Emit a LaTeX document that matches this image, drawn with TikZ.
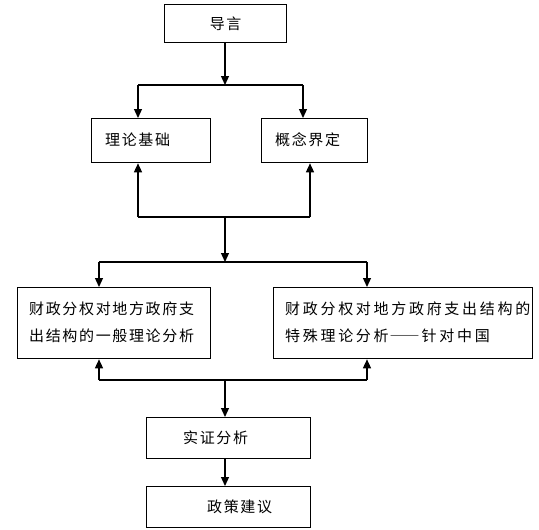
\documentclass[tikz,border=0pt]{standalone}
\usepackage{fontspec}
\newfontfamily\cjk[LetterSpace=11]{Noto Sans CJK SC}
\newfontfamily\cjkwide[LetterSpace=18]{Noto Sans CJK SC}
\newfontfamily\cjkplain[RawFeature=+fwid]{Noto Sans CJK SC}
\usetikzlibrary{arrows.meta}
\begin{document}
\begin{tikzpicture}[x=1pt,y=-1pt,
  box/.style={draw,line width=1.3pt,rectangle,anchor=north west,inner sep=0pt,font=\cjk\fontsize{15}{27}\selectfont},
  txt/.style={anchor=west,inner sep=0pt,align=left,font=\cjk\fontsize{15}{27}\selectfont},
  conn/.style={line width=1.3pt},
  arr/.style={conn,-{Triangle[length=9pt,width=8pt]}}]
\useasboundingbox (0,0) rectangle (539,530);
% boxes
\node[box,minimum width=122pt,minimum height=38pt] (intro) at (164,4) {};
\node[box,minimum width=119pt,minimum height=44pt] (theory) at (91,118) {};
\node[box,minimum width=106pt,minimum height=44pt] (concept) at (261,118) {};
\node[box,minimum width=193pt,minimum height=71pt] (general) at (17,287) {};
\node[box,minimum width=259pt,minimum height=71pt] (special) at (273,287) {};
\node[box,minimum width=164pt,minimum height=41pt] (empirical) at (146,417) {};
\node[box,minimum width=164pt,minimum height=41pt] (policy) at (146,486) {};
% texts
\node[txt,anchor=center] (introt) at (intro.center) {导言};
\node[txt] (theoryt) at (105,140) {理论基础};
\node[txt] (conceptt) at (275,140) {概念界定};
\node[txt] (generalt) at (29,322) {财政分权对地方政府支\\出结构的一般理论分析};
\node[txt,font=\cjkwide\fontsize{15}{27}\selectfont] (specialt) at (285,322) {财政分权对地方政府支出结构的\\特殊理论分析{\cjkplain\kern1pt——\kern2pt}针对中国};
\node[txt] (empiricalt) at (183,437.5) {实证分析};
\node[txt] (policyt) at (207,506.5) {政策建议};
% bus coordinates
\coordinate (t0) at (225,85);
\coordinate (tl) at (138,85);
\coordinate (tr) at (303,85);
\coordinate (m0) at (225,217);
\coordinate (ml) at (138,217);
\coordinate (mr) at (310,217);
\coordinate (n0) at (225,262);
\coordinate (nl) at (99,262);
\coordinate (nr) at (367,262);
\coordinate (b0) at (225,380);
\coordinate (bl) at (99,380);
\coordinate (br) at (367,380);
% connectors
\draw[arr] (t0 |- intro.south) -- (t0);
\draw[conn] (tl) -- (tr);
\draw[arr] (tl) -- (tl |- theory.north);
\draw[arr] (tr) -- (tr |- concept.north);
\draw[arr] (ml) -- (ml |- theory.south);
\draw[arr] (mr) -- (mr |- concept.south);
\draw[conn] (ml) -- (mr);
\draw[arr] (m0) -- (n0);
\draw[conn] (nl) -- (nr);
\draw[arr] (nl) -- (nl |- general.north);
\draw[arr] (nr) -- (nr |- special.north);
\draw[arr] (bl) -- (bl |- general.south);
\draw[arr] (br) -- (br |- special.south);
\draw[conn] (bl) -- (br);
\draw[arr] (b0) -- (b0 |- empirical.north);
\draw[arr] (b0 |- empirical.south) -- (b0 |- policy.north);
\end{tikzpicture}
\end{document}
